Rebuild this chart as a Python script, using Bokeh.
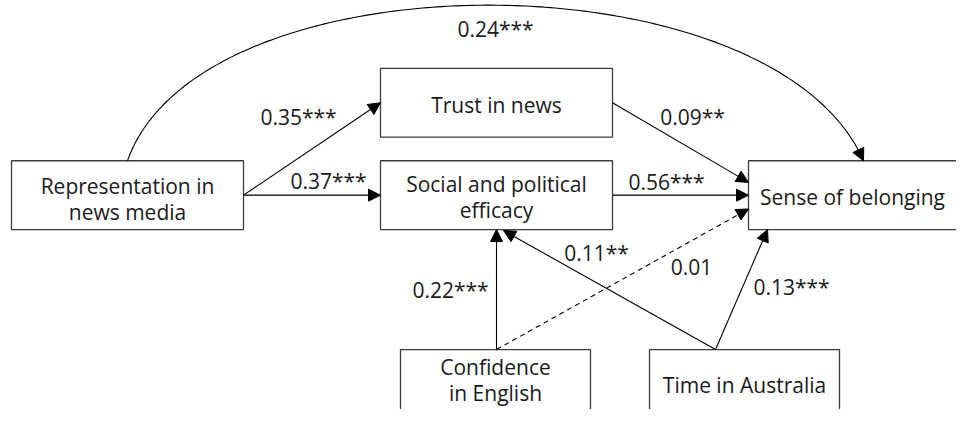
from bokeh.plotting import figure
from bokeh.models import Range1d, Arrow, NormalHead
from bokeh.core.properties import value
from bokeh.embed import file_html
from bokeh.resources import INLINE
import numpy as np

# ---- data ----
node_ids = ["rep", "trust", "eff", "belong", "eng", "time"]
node_labels = ["Representation in\nnews media", "Trust in news", "Social and political\nefficacy",
               "Sense of belonging", "Confidence\nin English", "Time in Australia"]
edge_from = ["rep", "rep", "rep", "trust", "eff", "eng", "eng", "time", "time"]
edge_to = ["belong", "trust", "eff", "belong", "belong", "eff", "belong", "eff", "belong"]
coefs = [0.24, 0.35, 0.37, 0.09, 0.56, 0.22, 0.01, 0.11, 0.13]
stars = ["***", "***", "***", "**", "***", "***", "", "**", "***"]

# ---- layout (reference pixel coordinates) ----
boxes = {  # left, right, top, bottom
    "rep": (11, 243, 163, 233),
    "trust": (380, 612, 69, 139),
    "eff": (380, 612, 163, 233),
    "belong": (748, 985, 163, 233),
    "eng": (400, 590, 355, 440),
    "time": (649, 839, 355, 440),
}
label_pos = {
    "rep": (127, 202), "trust": (496, 106), "eff": (496, 200),
    "belong": (852, 200), "eng": (495, 386), "time": (744, 391),
}
LINE_GAP = 26
edge_geom = [  # start, end
    ((127, 163), (863, 163)),
    ((243, 198), (380, 104)),
    ((243, 198), (380, 198)),
    ((612, 104), (748, 185)),
    ((612, 198), (748, 198)),
    ((496, 355), (496, 233)),
    ((496, 355), (748, 212)),
    ((715, 355), (503, 234)),
    ((715, 355), (767, 233)),
]
coef_pos = [(495, 29), (298, 119), (328, 184), (692, 119), (666, 185),
            (450, 294), (691, 271), (596, 257), (791, 291)]

FONT = "Open Sans"
FS = "21px"

p = figure(width=956, height=409, output_backend="svg", toolbar_location=None,
           x_range=Range1d(0, 956), y_range=Range1d(416, 0), min_border=0)
p.axis.visible = False
p.grid.visible = False
p.outline_line_color = None
p.background_fill_color = "white"

# boxes
l = [boxes[k][0] for k in node_ids]
r = [boxes[k][1] for k in node_ids]
t = [boxes[k][2] for k in node_ids]
b = [boxes[k][3] for k in node_ids]
p.quad(left=l, right=r, top=t, bottom=b, fill_color="white", line_color="#3c3c3c", line_width=1.3)

# node labels, one text per line
lx, ly, lt = [], [], []
for k, lab in zip(node_ids, node_labels):
    lines = lab.split("\n")
    n = len(lines)
    cx, cy = label_pos[k]
    for j, line in enumerate(lines):
        lx.append(cx)
        ly.append(cy + (j - (n - 1) / 2) * LINE_GAP)
        lt.append(line)
p.text(x=lx, y=ly, text=lt, text_align="center", text_baseline="middle",
       text_font=value(FONT), text_font_size=FS, text_color="#1a1a1a")

# edges
for i, ((x0, y0), (x1, y1)) in enumerate(edge_geom):
    dashed = stars[i] == ""
    if i == 0:
        c0 = (200, -48)
        c1 = (772, -48)
        tt = np.linspace(0, 1, 200)
        xs = (1 - tt) ** 3 * x0 + 3 * (1 - tt) ** 2 * tt * c0[0] + 3 * (1 - tt) * tt ** 2 * c1[0] + tt ** 3 * x1
        ys = (1 - tt) ** 3 * y0 + 3 * (1 - tt) ** 2 * tt * c0[1] + 3 * (1 - tt) * tt ** 2 * c1[1] + tt ** 3 * y1
        p.line(xs, ys, line_color="black", line_width=1.1)
        p.add_layout(Arrow(end=NormalHead(size=12, fill_color="black", line_color="black"),
                           x_start=xs[-4], y_start=ys[-4], x_end=x1, y_end=y1,
                           line_color="black", line_width=1.1))
    else:
        p.add_layout(Arrow(end=NormalHead(size=12, fill_color="black", line_color="black"),
                           x_start=x0, y_start=y0, x_end=x1, y_end=y1,
                           line_color="black", line_width=1.1,
                           line_dash="5 4" if dashed else "solid"))

coef_text = [f"{c:.2f}{s}" for c, s in zip(coefs, stars)]
p.text(x=[c[0] for c in coef_pos], y=[c[1] for c in coef_pos], text=coef_text,
       text_align="center", text_baseline="middle", text_font=value(FONT),
       text_font_size=FS, text_color="#1a1a1a")

open("out.html", "w").write(file_html(p, INLINE))
